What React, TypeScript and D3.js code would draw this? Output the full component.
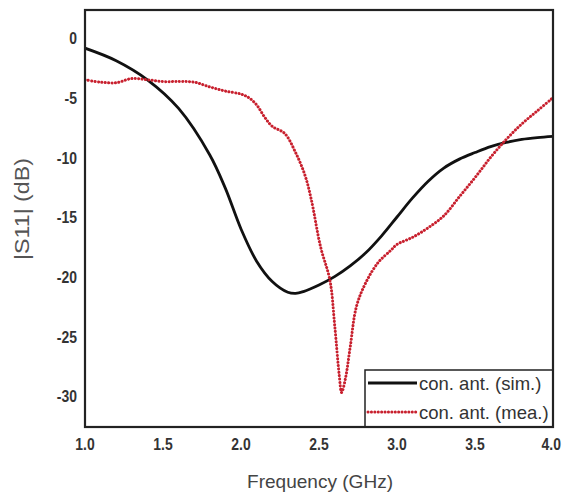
import React from "react";
import * as d3 from "d3";

const simFreq = [1.0, 1.2, 1.4, 1.6, 1.8, 1.9, 2.0, 2.1, 2.2, 2.3, 2.35, 2.4, 2.5, 2.6, 2.7, 2.8, 2.9, 3.0, 3.1, 3.2, 3.3, 3.4, 3.5, 3.6, 3.7, 3.8, 3.9, 4.0];
const simS11 = [-0.85, -1.9, -3.5, -5.9, -9.8, -12.6, -16.0, -18.7, -20.4, -21.3, -21.4, -21.25, -20.7, -20.0, -19.1, -18.0, -16.6, -15.0, -13.4, -12.0, -10.9, -10.15, -9.6, -9.1, -8.75, -8.5, -8.35, -8.25];

const meaFreq = [1.0, 1.1, 1.2, 1.3, 1.4, 1.5, 1.6, 1.7, 1.8, 1.9, 2.0, 2.05, 2.1, 2.15, 2.2, 2.28, 2.35, 2.41, 2.45, 2.51, 2.57, 2.6, 2.63, 2.645, 2.67, 2.7, 2.74, 2.8, 2.88, 2.96, 3.0, 3.1, 3.2, 3.3, 3.4, 3.5, 3.6, 3.7, 3.8, 3.9, 4.0];
const meaS11 = [-3.5, -3.7, -3.75, -3.4, -3.5, -3.65, -3.65, -3.7, -4.1, -4.45, -4.7, -5.0, -5.6, -6.6, -7.4, -8.0, -9.6, -11.5, -13.5, -17.5, -20.3, -24.0, -28.3, -29.7, -28.5, -25.9, -22.5, -20.5, -18.8, -17.8, -17.3, -16.7, -15.9, -14.9, -13.3, -11.7, -10.0, -8.5, -7.2, -6.1, -5.0];

const xTicks = [1.0, 1.5, 2.0, 2.5, 3.0, 3.5, 4.0];
const yTicks = [0, -5, -10, -15, -20, -25, -30];
const legendLabels = ["con. ant. (sim.)", "con. ant. (mea.)"];

function labelWidth(s: string, size: number) {
  let w = 0;
  for (const ch of s) w += ch === "." ? 0.278 : ch === "-" ? 0.333 : 0.556;
  return w * size * 0.82;
}

export default function App() {
  const left = 85, right = 553, top = 10, bottom = 427;
  const x = d3.scaleLinear().domain([1, 4]).range([left, right]);
  const y = d3.scaleLinear().domain([0, -30]).range([38, 396]);

  const line = d3
    .line<[number, number]>()
    .x((d) => x(d[0]))
    .y((d) => y(d[1]))
    .curve(d3.curveCatmullRom.alpha(0.5));

  const simPath = line(simFreq.map((f, i) => [f, simS11[i]]) as [number, number][]) || "";
  const meaPath = line(meaFreq.map((f, i) => [f, meaS11[i]]) as [number, number][]) || "";

  const font = "Arial, 'Liberation Sans', Helvetica, sans-serif";
  const red = "#c8202e";
  const tickSize = 17;

  return (
    <svg
      width={564}
      height={495}
      style={{ position: "absolute", left: 0, top: 0, background: "#fff" }}
      fontFamily={font}
    >
      <defs>
        <clipPath id="plotclip">
          <rect x={left} y={top} width={right - left} height={bottom - top} />
        </clipPath>
      </defs>
      <rect x={0} y={0} width={564} height={495} fill="#fff" />
      <g clipPath="url(#plotclip)">
        <path d={simPath} fill="none" stroke="#111" strokeWidth={2.8} strokeLinejoin="round" />
        <path
          d={meaPath}
          fill="none"
          stroke={red}
          strokeWidth={3}
          strokeDasharray="0.1 3.3"
          strokeLinecap="round"
        />
      </g>
      <g>
        <rect x={365} y={370} width={right - 365} height={bottom - 370} fill="#fff" stroke="#222" strokeWidth={1.5} />
        <line x1={368} x2={417} y1={383} y2={383} stroke="#111" strokeWidth={2.8} />
        <line
          x1={368}
          x2={417}
          y1={412}
          y2={412}
          stroke={red}
          strokeWidth={3}
          strokeDasharray="0.1 3.3"
          strokeLinecap="round"
        />
        <text x={419} y={390} fontSize={18.5} fill="#333">{legendLabels[0]}</text>
        <text x={419} y={419} fontSize={18.5} fill="#333">{legendLabels[1]}</text>
      </g>
      <rect x={left} y={top} width={right - left} height={bottom - top} fill="none" stroke="#222" strokeWidth={2.2} />
      {xTicks.map((t) => {
        const s = t.toFixed(1);
        const w = labelWidth(s, tickSize);
        const cx = Math.min(x(t), 564 - w / 2 - 3);
        return (
          <text
            key={t}
            x={cx}
            y={450}
            textAnchor="middle"
            fontSize={tickSize}
            fontWeight="bold"
            fill="#333"
            textLength={w}
            lengthAdjust="spacingAndGlyphs"
          >
            {s}
          </text>
        );
      })}
      {yTicks.map((t) => {
        const s = String(t);
        return (
          <text
            key={t}
            x={77}
            y={y(t)}
            dy="0.38em"
            textAnchor="end"
            fontSize={tickSize}
            fontWeight="bold"
            fill="#333"
            textLength={labelWidth(s, tickSize)}
            lengthAdjust="spacingAndGlyphs"
          >
            {s}
          </text>
        );
      })}
      <text x={320} y={488} textAnchor="middle" fontSize={19} fill="#444" textLength={146} lengthAdjust="spacingAndGlyphs">
        Frequency (GHz)
      </text>
      <text
        transform="translate(29,209) rotate(-90)"
        textAnchor="middle"
        fontSize={20}
        fill="#555"
        textLength={102}
        lengthAdjust="spacingAndGlyphs"
      >
        |S11| (dB)
      </text>
    </svg>
  );
}
